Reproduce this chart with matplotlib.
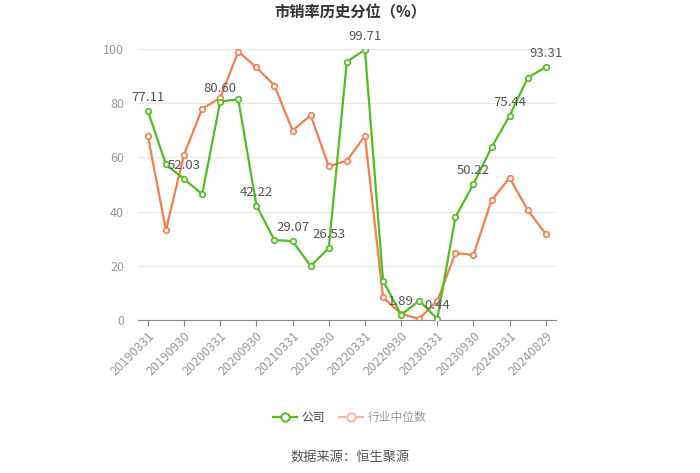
import matplotlib
matplotlib.use("Agg")
from matplotlib import pyplot as plt
from matplotlib.lines import Line2D

plt.rcParams['font.family'] = ['Noto Sans CJK SC', 'DejaVu Sans']

dates = ['20190331', '20190630', '20190930', '20191231', '20200331', '20200630',
         '20200930', '20201231', '20210331', '20210630', '20210930', '20211231',
         '20220331', '20220630', '20220930', '20221231', '20230331', '20230630',
         '20230930', '20231231', '20240331', '20240630', '20240829']
company = [77.11, 57.4, 52.03, 46.4, 80.60, 81.4, 42.22, 29.5, 29.07, 19.9, 26.53, 95.3,
           99.71, 14.5, 1.89, 7.1, 0.44, 37.9, 50.22, 63.7, 75.44, 89.4, 93.31]
industry = [67.9, 33.2, 61.0, 77.9, 82.0, 99.0, 93.2, 86.5, 69.9, 75.5, 56.7, 58.8,
            67.9, 8.4, 2.2, 0.5, 7.1, 24.7, 24.0, 44.2, 52.4, 40.5, 31.7]

green = '#52bd1f'
orange = '#f27e4f'

fig = plt.figure(figsize=(7, 4.73), dpi=100)
ax = fig.add_axes([0.197, 0.3235, 0.597, 0.573])

x = list(range(len(dates)))
ax.plot(x, company, color=green, lw=1.6, marker='o', ms=4, mfc='white', mew=1.2, zorder=3)
ax.plot(x, industry, color=orange, lw=1.6, marker='o', ms=4, mfc='white', mew=1.2, zorder=2)

# value labels on every other company point
for i in range(0, len(dates), 2):
    ax.annotate(f'{company[i]:.2f}', (i, company[i]), xytext=(0, 5), textcoords='offset points',
                ha='center', va='bottom', fontsize=9.5, color='#555555')

ax.set_xlim(-0.55, len(dates) - 0.45)
ax.set_ylim(0, 100)
ax.set_yticks([0, 20, 40, 60, 80, 100])
ax.set_xticks(x[::2])
ax.set_xticklabels(dates[::2], rotation=45, ha='right', rotation_mode='anchor')
ax.tick_params(axis='x', colors='#999999', labelsize=9, length=4, pad=3)
ax.tick_params(axis='x', color='#888888')
ax.tick_params(axis='y', colors='#999999', labelsize=9, length=0, pad=10)
ax.grid(axis='y', color='#e8e8e8', lw=0.9)
ax.set_axisbelow(True)
for s in ['left', 'right', 'top']:
    ax.spines[s].set_visible(False)
ax.spines['bottom'].set_color('#888888')

fig.text(0.5, 0.973, '市销率历史分位（%）', ha='center', va='center', fontsize=11,
         fontweight='bold', color='#333333')

handles = [Line2D([], [], color=green, lw=1.6, marker='o', ms=6, mfc='white', mew=1.4),
           Line2D([], [], color='#f6b79c', lw=1.6, marker='o', ms=6, mfc='white', mew=1.4)]
leg = fig.legend(handles, ['公司', '行业中位数'], loc='center', bbox_to_anchor=(0.5, 0.118),
                 ncol=2, frameon=False, fontsize=8.5, handlelength=2.0, columnspacing=1.2,
                 handletextpad=0.4)
leg.get_texts()[0].set_color('#444444')
leg.get_texts()[1].set_color('#999999')

fig.text(0.5, 0.034, '数据来源：恒生聚源', ha='center', va='center', fontsize=9.5, color='#555555')

fig.savefig('out.png', dpi=100)
